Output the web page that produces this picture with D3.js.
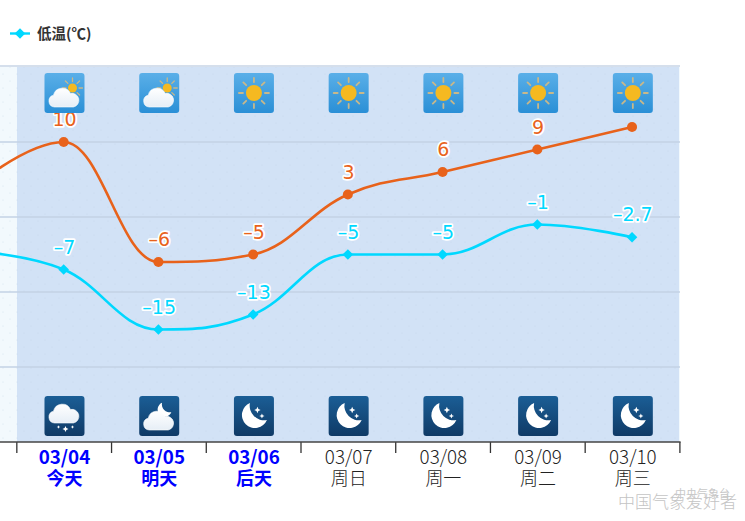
<!DOCTYPE html>
<html>
<head>
<meta charset="utf-8">
<script src="https://cdnjs.cloudflare.com/ajax/libs/d3/7.8.5/d3.min.js"></script>
<style>
html,body{margin:0;padding:0;background:#fff;overflow:hidden}
svg{display:block}
text{font-family:"Noto Sans CJK SC","DejaVu Sans",sans-serif}
.val{font-family:"DejaVu Sans",sans-serif;font-size:19px;paint-order:stroke;stroke:#fff;stroke-width:3.4px;stroke-linejoin:round;text-anchor:middle}
</style>
</head>
<body>
<svg id="chart" width="745" height="521"></svg>
<script>
// first category sits left of the plot, only its line stub shows
var categories = ["03/03","03/04","03/05","03/06","03/07","03/08","03/09","03/10"]
var weekdays = ["","今天","明天","后天","周日","周一","周二","周三"]
var highTemps = [3.5,10,-6,-5,3,6,9,12]
var lowTemps = [-4.5,-7,-15,-13,-5,-5,-1,-2.7]
var dayIcons = ["","partlyDay","partlyDay","sun","sun","sun","sun","sun"]
var nightIcons = ["","snowNight","partlyNight","moon","moon","moon","moon","moon"]
var gridTemps = [10,0,-10,-20]

var orange = "#e8621b", cyan = "#00d8ff"
var plot = {left:0,right:680,top:66,bottom:442,inner:17}
var iconShift = .8

var svg = d3.select("#chart")
var defs = svg.append("defs")

var xScale = d3.scaleBand().domain(categories).range([-78.4,679.4])
var center = function(c){ return xScale(c)+xScale.bandwidth()/2 }
var yScale = d3.scaleLinear().domain([-20,10]).range([367,142])

// highcharts style spline
var splineCurve = function(context)
{
    var pts
    return {
        areaStart:function(){},
        areaEnd:function(){},
        lineStart:function(){pts=[]},
        point:function(x,y){pts.push([x,y])},
        lineEnd:function(){
            var conts = pts.map(function(p,i){
                if(i==0||i==pts.length-1) return {l:p,r:p}
                var a=pts[i-1],b=pts[i+1]
                var lx=(1.5*p[0]+a[0])/2.5, ly=(1.5*p[1]+a[1])/2.5
                var rx=(1.5*p[0]+b[0])/2.5, ry=(1.5*p[1]+b[1])/2.5
                var corr=(ry-ly)*(rx-p[0])/(rx-lx)+p[1]-ry
                ly+=corr; ry+=corr
                if(ly>a[1]&&ly>p[1]){ly=Math.max(a[1],p[1]);ry=2*p[1]-ly}
                else if(ly<a[1]&&ly<p[1]){ly=Math.min(a[1],p[1]);ry=2*p[1]-ly}
                if(ry>b[1]&&ry>p[1]){ry=Math.max(b[1],p[1]);ly=2*p[1]-ry}
                else if(ry<b[1]&&ry<p[1]){ry=Math.min(b[1],p[1]);ly=2*p[1]-ry}
                return {l:[lx,ly],r:[rx,ry]}
            })
            context.moveTo(pts[0][0],pts[0][1])
            for(var i=1;i<pts.length;i++){
                context.bezierCurveTo(conts[i-1].r[0],conts[i-1].r[1],conts[i].l[0],conts[i].l[1],pts[i][0],pts[i][1])
            }
        }
    }
}

// defs
var gradient = function(id,top,bottom)
{
    var g = defs.append("linearGradient").attr("id",id).attr("x1",0).attr("y1",0).attr("x2",0).attr("y2",1)
    g.append("stop").attr("offset","0%").attr("stop-color",top)
    g.append("stop").attr("offset","100%").attr("stop-color",bottom)
}
gradient("dayBg","#5aafe8","#2a8fd6")
gradient("nightBg","#1b5e96","#0f3a66")
gradient("cloudFill","#ffffff","#e6eef6")

var pattern = defs.append("pattern").attr("id","dots").attr("width",14).attr("height",14).attr("patternUnits","userSpaceOnUse")
pattern.append("circle").attr("cx",3).attr("cy",4).attr("r",.6).attr("fill","#b9cfe6").attr("opacity",.55)
pattern.append("circle").attr("cx",10).attr("cy",11).attr("r",.6).attr("fill","#b9cfe6").attr("opacity",.55)

defs.append("clipPath").attr("id","plotClip").append("rect")
    .attr("x",plot.left).attr("y",plot.top).attr("width",plot.right-plot.left).attr("height",plot.bottom-plot.top)

// background
svg.append("rect").attr("x",plot.left).attr("y",plot.top).attr("width",plot.right).attr("height",plot.bottom-plot.top).attr("fill","#f2f9fd")
svg.append("rect").attr("x",plot.inner).attr("y",plot.top).attr("width",plot.right-plot.inner-1).attr("height",plot.bottom-plot.top).attr("fill","#d2e2f6")
svg.append("rect").attr("x",plot.left).attr("y",plot.top).attr("width",plot.right-1).attr("height",plot.bottom-plot.top).attr("fill","url(#dots)")
svg.append("line").attr("x1",0).attr("x2",plot.right).attr("y1",plot.top).attr("y2",plot.top).attr("stroke","#d5dfec").attr("stroke-width",2)

svg.append("g").selectAll("line").data(gridTemps).enter().append("line")
    .attr("x1",plot.left).attr("x2",plot.right)
    .attr("y1",function(d){return yScale(d)}).attr("y2",function(d){return yScale(d)})
    .attr("stroke","#c3d2e5").attr("stroke-width",1.6)

// axis, ticks sit on the band edges
var edgeScale = d3.scaleLinear().domain([0,7]).range([xScale("03/04"),xScale("03/10")+xScale.bandwidth()])
var xAxis = d3.axisBottom(edgeScale).tickValues(d3.range(8)).tickFormat("").tickSize(11).tickSizeOuter(0)
var axisG = svg.append("g").attr("transform","translate(0,"+plot.bottom+")").call(xAxis)
axisG.select(".domain").remove()
axisG.selectAll("line").attr("stroke","#333").attr("stroke-width",1.3)
svg.append("line").attr("x1",0).attr("x2",plot.right+.6).attr("y1",plot.bottom).attr("y2",plot.bottom).attr("stroke","#444").attr("stroke-width",1.6)

var labels = svg.append("g")
categories.slice(1).forEach(function(c,i){
    var bold = i<3
    var t = labels.append("text").attr("text-anchor","middle")
        .attr("fill",bold?"#0000ff":"#222").attr("font-weight",bold?700:300)
    t.append("tspan").attr("x",center(c)+iconShift).attr("y",464).attr("font-size","18.8px").text(c)
    t.append("tspan").attr("x",center(c)+iconShift).attr("y",484.5).attr("font-size","18px").text(weekdays[i+1])
})

// lines
var lineGen = d3.line()
    .x(function(d,i){return center(categories[i])})
    .y(function(d){return yScale(d)})
    .curve(splineCurve)
var lines = svg.append("g").attr("clip-path","url(#plotClip)")
lines.append("path").attr("d",lineGen(highTemps)).attr("fill","none").attr("stroke",orange).attr("stroke-width",2.6)
lines.append("path").attr("d",lineGen(lowTemps)).attr("fill","none").attr("stroke",cyan).attr("stroke-width",2.6)

var diamond = d3.symbol().type(d3.symbolSquare).size(56)
var shown = d3.range(1,categories.length)

lines.selectAll(".hi").data(shown).enter().append("circle").attr("class","hi")
    .attr("cx",function(i){return center(categories[i])})
    .attr("cy",function(i){return yScale(highTemps[i])})
    .attr("r",5).attr("fill",orange)
lines.selectAll(".lo").data(shown).enter().append("path").attr("class","lo")
    .attr("d",diamond)
    .attr("transform",function(i){return "translate("+center(categories[i])+","+yScale(lowTemps[i])+") rotate(45)"})
    .attr("fill",cyan)

var fmt = function(v){ return String(v).replace("-","–") }
svg.append("g").selectAll("text").data(shown).enter().append("text").attr("class","val")
    .attr("x",function(i){return center(categories[i])+iconShift})
    .attr("y",function(i){return yScale(highTemps[i])-16})
    .attr("fill",orange).text(function(i){return fmt(highTemps[i])})
svg.append("g").selectAll("text").data(shown).enter().append("text").attr("class","val")
    .attr("x",function(i){return center(categories[i])+iconShift})
    .attr("y",function(i){return yScale(lowTemps[i])-16})
    .attr("fill",cyan).text(function(i){return fmt(lowTemps[i])})

// icons
var drawCloud = function(g,dy)
{
    var c = g.append("g").attr("transform","translate(0,"+dy+")").attr("fill","url(#cloudFill)")
    c.append("path").attr("d","M10,34 A6,6 0 0 1 9,22.2 A9,9 0 0 1 26,20.5 A6.8,6.8 0 0 1 29,34 Z")
        .attr("stroke","#fff").attr("stroke-width",.6)
}
var drawSun = function(g,cx,cy,r,r1,r2,w)
{
    g.selectAll(".ray").data(d3.range(8)).enter().append("line")
        .attr("x1",function(d){return cx+r1*Math.cos(d*Math.PI/4)})
        .attr("y1",function(d){return cy+r1*Math.sin(d*Math.PI/4)})
        .attr("x2",function(d){return cx+r2*Math.cos(d*Math.PI/4)})
        .attr("y2",function(d){return cy+r2*Math.sin(d*Math.PI/4)})
        .attr("stroke","#c8b88a").attr("stroke-width",w).attr("stroke-linecap","round")
    g.append("circle").attr("cx",cx).attr("cy",cy).attr("r",r).attr("fill","#f5b921")
}
var drawStar = function(g,cx,cy,s)
{
    g.append("path").attr("fill","#fff")
        .attr("d","M"+cx+","+(cy-s)+"L"+(cx+s*.3)+","+(cy-s*.3)+"L"+(cx+s)+","+cy+"L"+(cx+s*.3)+","+(cy+s*.3)+"L"+cx+","+(cy+s)+"L"+(cx-s*.3)+","+(cy+s*.3)+"L"+(cx-s)+","+cy+"L"+(cx-s*.3)+","+(cy-s*.3)+"Z")
}
var drawMoon = function(g,k,tx,ty)
{
    g.append("path").attr("fill","#fff")
        .attr("transform","translate("+tx+","+ty+") scale("+k+")")
        .attr("d","M16,7 A13,13 0 1 0 33,24 A14.5,14.5 0 0 1 16,7 Z")
}
var drawIcon = function(type,c,top)
{
    var g = svg.append("g").attr("transform","translate("+(center(c)+iconShift-20)+","+top+")")
    var night = type.indexOf("ight")>0||type=="moon"
    g.append("rect").attr("width",40).attr("height",40).attr("rx",3).attr("fill",night?"url(#nightBg)":"url(#dayBg)")
    if(type=="sun"){
        drawSun(g,20,20,8,11,15,1.8)
    }
    if(type=="partlyDay"){
        drawSun(g,28,15,4.5,6.5,10,1.3)
        drawCloud(g,0)
    }
    if(type=="partlyNight"){
        drawMoon(g,.55,14,3)
        drawCloud(g,0)
    }
    if(type=="snowNight"){
        drawCloud(g,-7)
        drawStar(g,21,33,3)
        drawStar(g,14,31,1.8)
        drawStar(g,28,31,1.8)
    }
    if(type=="moon"){
        drawMoon(g,1,0,0)
        drawStar(g,23.5,14,3.2)
        drawStar(g,28,20,2.6)
    }
}
categories.forEach(function(c,i){
    if(i==0) return
    drawIcon(dayIcons[i],c,73)
    drawIcon(nightIcons[i],c,396)
})

// legend
var legend = svg.append("g")
legend.append("line").attr("x1",10).attr("x2",30).attr("y1",33.5).attr("y2",33.5).attr("stroke",cyan).attr("stroke-width",2.4)
legend.append("path").attr("d",diamond).attr("transform","translate(20,33.5) rotate(45)").attr("fill",cyan)
legend.append("text").attr("x",37).attr("y",39).attr("font-size","14.5px").attr("font-weight",700).attr("fill","#333").text("低温(℃)")

// watermark
svg.append("text").attr("x",618).attr("y",508).attr("font-size","17px").attr("font-weight",300).attr("fill","#c4c4c4").text("中国气象爱好者")
svg.append("text").attr("x",675).attr("y",498).attr("font-size","11px").attr("fill","#c8c8c8").text("中央气象台")
</script>
</body>
</html>
